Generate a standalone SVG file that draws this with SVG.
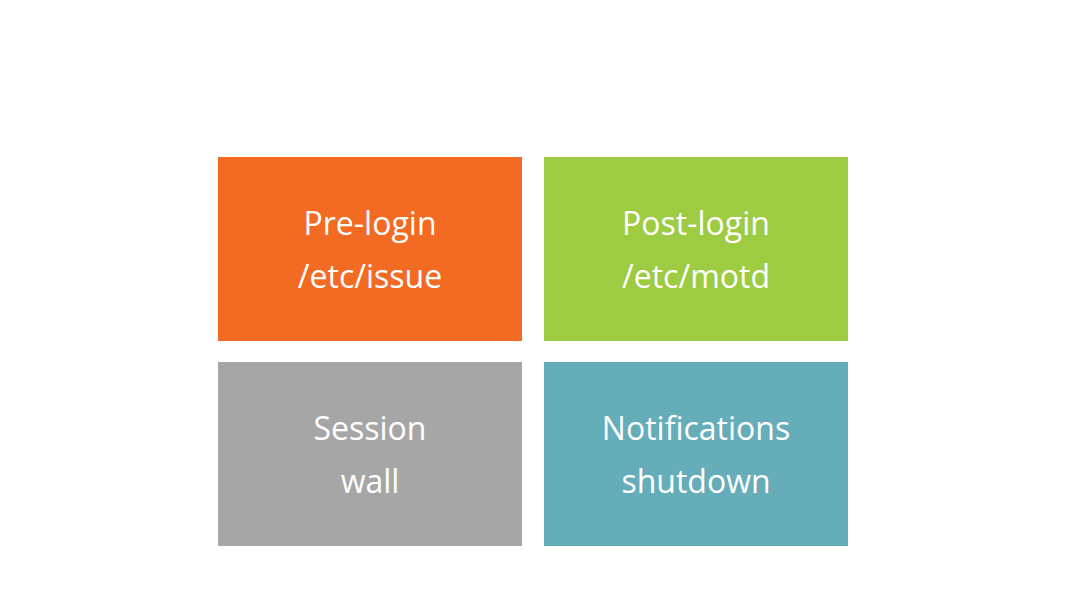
<svg xmlns="http://www.w3.org/2000/svg" width="1068" height="600" viewBox="0 0 1068 600">
<style>
text{font-family:"Open Sans","Liberation Sans",sans-serif;font-size:32px;fill:#ffffff;text-anchor:middle}
</style>
<rect width="1068" height="600" fill="#ffffff"/>
<g id="node-prelogin">
<rect x="218" y="157" width="304" height="184" fill="#F36A23"/>
<text x="370" y="235">Pre-login</text>
<text x="370" y="288">/etc/issue</text>
</g>
<g id="node-postlogin">
<rect x="544" y="157" width="304" height="184" fill="#9DCB41"/>
<text x="696" y="235">Post-login</text>
<text x="696" y="288">/etc/motd</text>
</g>
<g id="node-session">
<rect x="218" y="362" width="304" height="184" fill="#A6A6A6"/>
<text x="370" y="440">Session</text>
<text x="370" y="493">wall</text>
</g>
<g id="node-notifications">
<rect x="544" y="362" width="304" height="184" fill="#66ADBA"/>
<text x="696" y="440">Notifications</text>
<text x="696" y="493">shutdown</text>
</g>
<g id="connectors"></g>
</svg>
